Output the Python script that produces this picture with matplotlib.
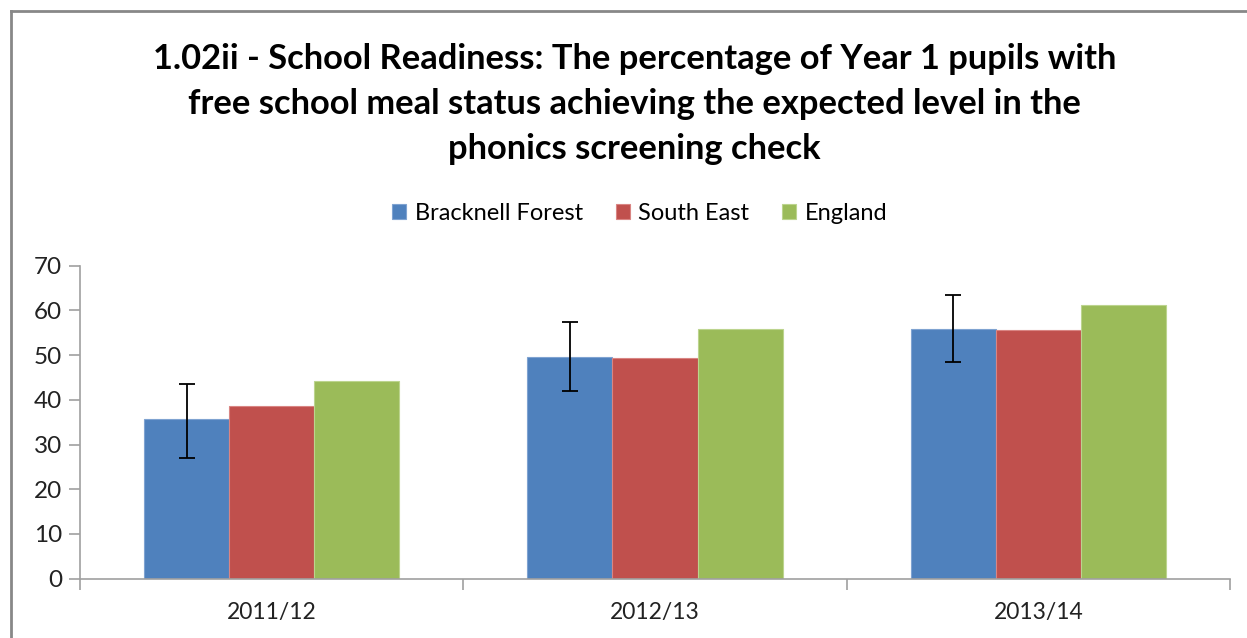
import matplotlib
matplotlib.use("Agg")
import matplotlib.pyplot as plt
from matplotlib.lines import Line2D
import numpy as np

plt.rcParams['font.family'] = ['Lato', 'DejaVu Sans']

categories = ["2011/12", "2012/13", "2013/14"]
series_names = ["Bracknell Forest", "South East", "England"]
bracknell = [35.7, 49.5, 55.8]
south_east = [38.6, 49.4, 55.6]
england = [44.3, 55.8, 61.3]
bracknell_lower = [27.0, 42.0, 48.5]
bracknell_upper = [43.6, 57.4, 63.5]
colors = ["#4F81BD", "#C0504D", "#9BBB59"]
edge_colors = ["#7FA3D1", "#D98583", "#BCD48E"]
yticks = [0, 10, 20, 30, 40, 50, 60, 70]
title = ("1.02ii - School Readiness: The percentage of Year 1 pupils with\n"
         "free school meal status achieving the expected level in the\n"
         "phonics screening check")

fig = plt.figure(figsize=(12.47, 6.38), dpi=100)
ax = fig.add_axes([80/1247, 1-578.7/638, 1150/1247, 313/638])

x = np.arange(len(categories))
w = 0.222
series = [bracknell, south_east, england]
for i, (vals, c, ec, name) in enumerate(zip(series, colors, edge_colors, series_names)):
    ax.bar(x + (i-1)*w, vals, width=w, color=c, edgecolor=ec, linewidth=0.8, label=name, zorder=2)

yerr = [np.array(bracknell) - np.array(bracknell_lower),
        np.array(bracknell_upper) - np.array(bracknell)]
ax.errorbar(x - w, bracknell, yerr=yerr, fmt='none', ecolor='black',
            elinewidth=1.3, capsize=6, capthick=1.3, zorder=3)

ax.set_xlim(-0.5, len(categories)-0.5)
ax.set_ylim(0, 70)
ax.set_yticks(yticks)
ax.set_xticks(x)
ax.set_xticklabels(categories)
ax.set_xticks(np.arange(-0.5, len(categories)), minor=True)
ax.tick_params(axis='x', which='major', length=0, labelsize=16.5, pad=17, colors='#222222')
ax.tick_params(axis='x', which='minor', length=8, width=1.2, color='#A0A0A0', direction='out')
ax.tick_params(axis='y', length=8, width=1.2, color='#A0A0A0', labelsize=17.5, pad=5, labelcolor='#222222')
for s in ['top', 'right']:
    ax.spines[s].set_visible(False)
for s in ['left', 'bottom']:
    ax.spines[s].set_color('#A0A0A0')
    ax.spines[s].set_linewidth(1.2)

fig.text(0.509, 1-104/638, title, ha='center', va='center', fontsize=24.8,
         fontweight='bold', linespacing=1.5, color='black')

leg = fig.legend(loc='center', bbox_to_anchor=(0.513, 1-213/638), ncol=3, frameon=False,
                 fontsize=17, handlelength=0.6, handleheight=0.6, handletextpad=0.35,
                 columnspacing=1.4)

fig.add_artist(Line2D([11/1247, 1.0], [1-11/638, 1-11/638], color='#888888', linewidth=2))
fig.add_artist(Line2D([11/1247, 11/1247], [0, 1-11/638], color='#888888', linewidth=2))

fig.savefig("out.png", dpi=100)
